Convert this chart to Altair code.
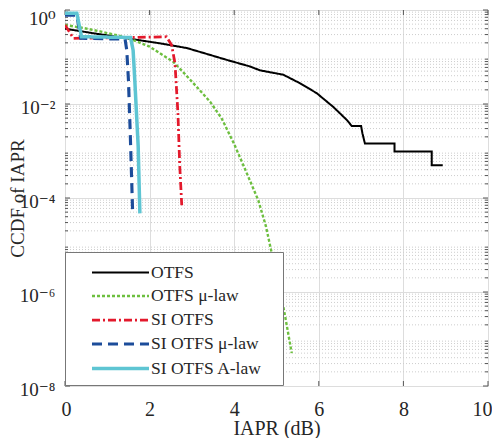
import altair as alt
import pandas as pd

series_names = ["OTFS", "OTFS μ-law", "SI OTFS", "SI OTFS μ-law", "SI OTFS A-law"]

otfs_x = [0, 0.67, 1.46, 2.25, 2.88, 3.3, 3.82, 4.37, 4.61, 5.16, 5.56, 5.95, 6.34, 6.66, 6.78,
          7.0, 7.03, 7.09, 7.79, 7.79, 8.67, 8.67, 8.93]
otfs_y = [0.40, 0.32, 0.25, 0.195, 0.155, 0.12, 0.087, 0.063, 0.052, 0.042, 0.0275, 0.017, 0.0087,
          0.0046, 0.0034, 0.0034, 0.0024, 0.00145, 0.00145, 0.00098, 0.00098, 0.0005, 0.0005]

mu_x = [0, 0.4, 0.83, 1.46, 2.0, 2.56, 2.72, 3.0, 3.43, 3.7, 4.0, 4.29, 4.57, 4.75, 4.88, 5.05, 5.2, 5.36]
mu_y = [0.48, 0.42, 0.35, 0.26, 0.166, 0.079, 0.056, 0.030, 0.0112, 0.005, 0.0014, 3.5e-4, 8.9e-5,
        2.5e-5, 7.2e-6, 1.6e-6, 3.2e-7, 5e-8]

si_x = [0, 0.2, 1.58, 2.4, 2.52, 2.6, 2.67, 2.71, 2.76]
si_y = [0.48, 0.25, 0.26, 0.27, 0.18, 0.074, 0.0063, 5.5e-4, 7e-5]

si_mu_x = [0, 0.28, 0.37, 1.42, 1.46, 1.5, 1.54, 1.6]
si_mu_y = [0.78, 0.78, 0.25, 0.24, 0.14, 0.032, 0.0028, 4.7e-5]

si_a_x = [0, 0.28, 0.39, 1.55, 1.61, 1.65, 1.73, 1.77]
si_a_y = [0.85, 0.85, 0.27, 0.26, 0.14, 0.032, 0.00126, 4.7e-5]

x_ticks = [0, 2, 4, 6, 8, 10]
y_ticks = [1, 1e-2, 1e-4, 1e-6, 1e-8]
y_tick_labels = ["10⁰", "10⁻²", "10⁻⁴", "10⁻⁶", "10⁻⁸"]
minor_mults = [2, 3, 4, 5, 6, 7, 8, 9]
decades = [-8, -7, -6, -5, -4, -3, -2, -1]

colors = ["#000000", "#6dbf3f", "#e3192c", "#1c4c9a", "#5ec5d3"]
dashes = [[1, 0], [3, 2], [8, 3, 2, 3], [10, 6], [1, 0]]
widths = [2, 3.5, 2, 2.5, 2]

W, H = 423, 376

rows = []
for name, xs, ys in zip(series_names,
                        [otfs_x, mu_x, si_x, si_mu_x, si_a_x],
                        [otfs_y, mu_y, si_y, si_mu_y, si_a_y]):
    for i, (xv, yv) in enumerate(zip(xs, ys)):
        rows.append({"series": name, "x": xv, "y": yv, "idx": i})
df = pd.DataFrame(rows)

minor_df = pd.DataFrame({"y": [m * 10.0 ** e for e in decades for m in minor_mults]})
xtick_df = pd.DataFrame({"x": x_ticks})
ytick_df = pd.DataFrame({"y": y_ticks})

FONT = "Liberation Serif, Times New Roman, DejaVu Serif"
TICK = "#555555"

xscale = alt.Scale(domain=[0, 10], nice=False)
yscale = alt.Scale(type="log", domain=[1e-8, 1], nice=False)

label_expr = ""
for v, lab in zip(y_ticks, y_tick_labels):
    label_expr += f"datum.value >= {v * 0.9} ? '{lab}' : "
label_expr += "''"

y_axis = alt.Axis(values=y_ticks, labelExpr=label_expr, title="CCDF of IAPR", grid=True,
                  gridColor="#dddddd", ticks=False, tickSize=0, domain=False,
                  labelPadding=10, labelFontSize=19, titleFontSize=19, labelFont=FONT,
                  titleFont=FONT, labelColor="#262626", titleColor="#262626",
                  titleFontWeight="normal", titleX=-37.5, titleY=188,
                  labelFlush=False, labelBaseline="middle",
                  labelOffset={"condition": {"test": "datum.value >= 0.9", "value": 8}, "value": 3})

x_axis = alt.Axis(values=x_ticks, title="IAPR (dB)", grid=True, gridColor="#dddddd",
                  ticks=False, tickSize=0, domain=False, labelPadding=13,
                  labelFontSize=20, titleFontSize=20, labelFont=FONT, titleFont=FONT,
                  labelColor="#262626", titleColor="#262626", titleFontWeight="normal",
                  titleY=32, titleBaseline="top", labelFlush=True, labelFlushOffset=4)

minor = alt.Chart(minor_df).mark_rule(color="#cdcdcd", strokeDash=[1, 2], strokeWidth=1).encode(
    y=alt.Y("y:Q", scale=yscale, axis=y_axis)
)

# inward tick marks on all four sides (MATLAB box style)
minor_ticks_l = alt.Chart(minor_df).mark_rule(color=TICK, strokeWidth=1).encode(
    y=alt.Y("y:Q", scale=yscale, axis=y_axis), x=alt.value(0), x2=alt.value(3))
minor_ticks_r = alt.Chart(minor_df).mark_rule(color=TICK, strokeWidth=1).encode(
    y=alt.Y("y:Q", scale=yscale, axis=y_axis), x=alt.value(W - 3), x2=alt.value(W))
major_ticks_l = alt.Chart(ytick_df).mark_rule(color=TICK, strokeWidth=1).encode(
    y=alt.Y("y:Q", scale=yscale, axis=y_axis), x=alt.value(0), x2=alt.value(5))
major_ticks_r = alt.Chart(ytick_df).mark_rule(color=TICK, strokeWidth=1).encode(
    y=alt.Y("y:Q", scale=yscale, axis=y_axis), x=alt.value(W - 5), x2=alt.value(W))
x_ticks_b = alt.Chart(xtick_df).mark_rule(color=TICK, strokeWidth=1).encode(
    x=alt.X("x:Q", scale=xscale, axis=x_axis), y=alt.value(H - 5), y2=alt.value(H))
x_ticks_t = alt.Chart(xtick_df).mark_rule(color=TICK, strokeWidth=1).encode(
    x=alt.X("x:Q", scale=xscale, axis=x_axis), y=alt.value(0), y2=alt.value(5))

lines = alt.Chart(df).mark_line(clip=True, strokeCap="butt").encode(
    x=alt.X("x:Q", scale=xscale, axis=x_axis),
    y=alt.Y("y:Q", scale=yscale, axis=y_axis),
    color=alt.Color("series:N", scale=alt.Scale(domain=series_names, range=colors),
                    legend=alt.Legend(title=None, orient="none", legendX=0, legendY=242,
                                      direction="vertical", fillColor="white", strokeColor="#777777",
                                      padding=8, symbolType="M-2.5,0L2.5,0", symbolSize=520,
                                      symbolOffset=34, labelFont=FONT, labelFontSize=17.5,
                                      labelColor="#262626", labelOffset=17, rowPadding=2,
                                      labelExpr="datum.label + '\u2800'")),
    strokeDash=alt.StrokeDash("series:N", scale=alt.Scale(domain=series_names, range=dashes)),
    strokeWidth=alt.StrokeWidth("series:N", scale=alt.Scale(domain=series_names, range=widths)),
    order="idx:Q",
)

chart = alt.layer(minor, minor_ticks_l, minor_ticks_r, major_ticks_l, major_ticks_r,
                  x_ticks_b, x_ticks_t, lines).properties(
    width=W, height=H,
    autosize=alt.AutoSizeParams(type="none"),
    padding={"left": 57, "top": 2, "right": 4, "bottom": 52},
).configure_view(stroke="#555555", strokeWidth=1.5).configure(background="white")

chart.save("out.html", embed_options={"renderer": "svg", "actions": False})
